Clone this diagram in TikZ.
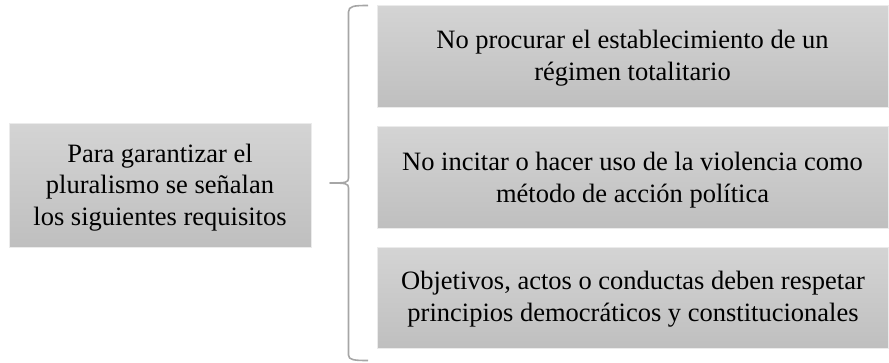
\documentclass[tikz,border=0pt]{standalone}
\usepackage{fontspec}
\setmainfont{Liberation Serif}
\begin{document}
\begin{tikzpicture}[x=1pt,y=-1pt,
  gbox/.style={draw=white!92!black,line width=0.8pt,top color=gTop,bottom color=gBot,shading angle=0},
  btxt/.style={align=center,anchor=base,font=\fontsize{26.5}{31.5}\selectfont,text=black,inner sep=0pt}]
\definecolor{gTop}{HTML}{D4D4D4}
\definecolor{gBot}{HTML}{BFBFBF}
\definecolor{brk}{HTML}{A6A6A6}
\useasboundingbox (0,0) rectangle (889,362);
\path[gbox] (9,123) rectangle (311,247);
\node[btxt] (L) at (160,225) {Para garantizar el\\pluralismo se señalan\\los siguientes requisitos};
\path[gbox] (377,5) rectangle (888,107);
\node[btxt] (A) at (632.5,80) {No procurar el establecimiento de un\\régimen totalitario};
\path[gbox] (377,126) rectangle (888,228);
\node[btxt] (B) at (632.5,202) {No incitar o hacer uso de la violencia como\\método de acción política};
\path[gbox] (377,247) rectangle (888,348);
\node[btxt] (C) at (633,321) {Objetivos, actos o conductas deben respetar\\principios democráticos y constitucionales};
\coordinate (bt) at (368,5.5);
\coordinate (bb) at (368,360.5);
\coordinate (bm) at (330,183);
\draw[brk,line width=1.6pt,line join=round] (bt) .. controls (354,5.5) and (348.5,6) .. (348.5,12)
  -- (348.5,178) .. controls (348.5,182.5) and (346,183) .. (bm)
  .. controls (346,183) and (348.5,183.5) .. (348.5,188)
  -- (348.5,355) .. controls (348.5,360) and (354,360.5) .. (bb);
\end{tikzpicture}
\end{document}
